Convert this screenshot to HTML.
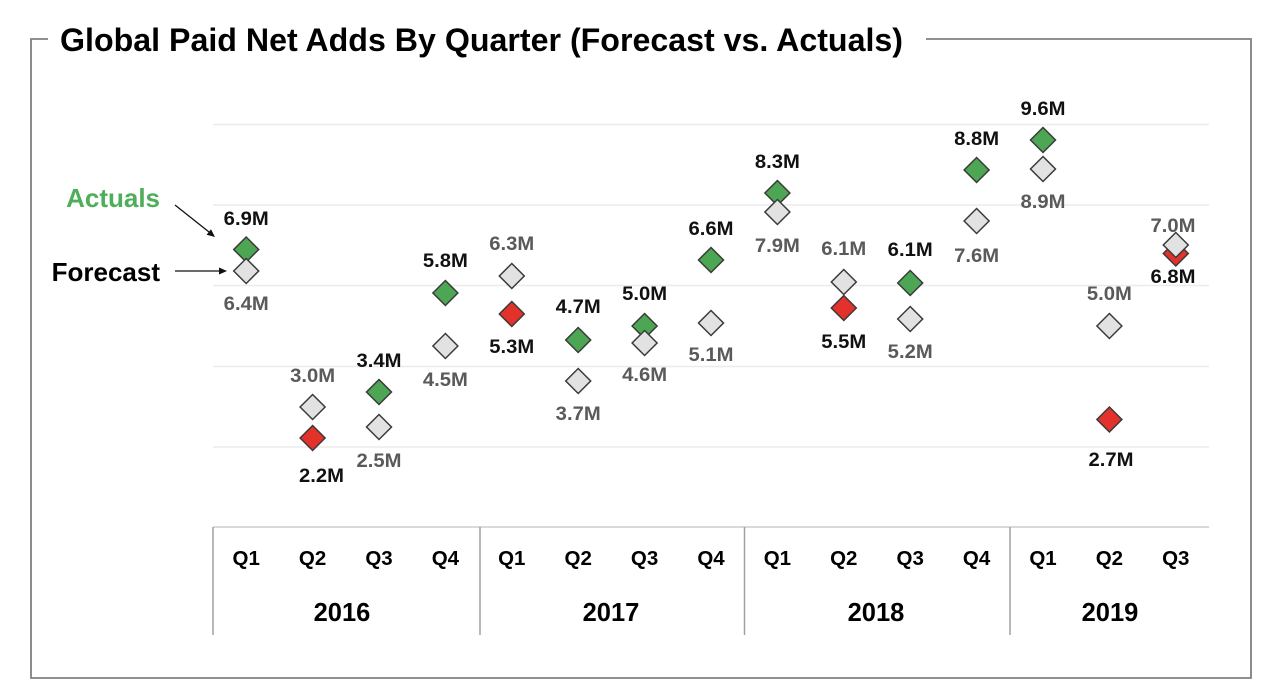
<!DOCTYPE html>
<html>
<head>
<meta charset="utf-8">
<style>
  html, body { margin: 0; padding: 0; background: #ffffff; }
  svg { display: block; }
  text { font-family: "Liberation Sans", Arial, sans-serif; font-weight: bold; }
</style>
</head>
<body>
<svg width="1280" height="699" viewBox="0 0 1280 699" xmlns="http://www.w3.org/2000/svg">
  <rect x="0" y="0" width="1280" height="699" fill="#ffffff"/>

  <!-- outer frame -->
  <path d="M48,39 H31 V678 H1251 V39 H926" fill="none" stroke="#808080" stroke-width="1.8"/>

  <!-- title -->
  <text x="60" y="51" font-size="32" fill="#000" textLength="843" lengthAdjust="spacingAndGlyphs">Global Paid Net Adds By Quarter (Forecast vs. Actuals)</text>

  <!-- gridlines -->
  <g stroke="#ebebeb" stroke-width="1.5">
    <line x1="213" y1="124.5" x2="1209" y2="124.5"/>
    <line x1="213" y1="205" x2="1209" y2="205"/>
    <line x1="213" y1="285.5" x2="1209" y2="285.5"/>
    <line x1="213" y1="366.5" x2="1209" y2="366.5"/>
    <line x1="213" y1="447" x2="1209" y2="447"/>
  </g>
  <line x1="213" y1="527" x2="1209" y2="527" stroke="#d9d9d9" stroke-width="2"/>

  <!-- year separators -->
  <g stroke="#a0a0a0" stroke-width="1.5">
    <line x1="213" y1="527" x2="213" y2="635"/>
    <line x1="480" y1="527" x2="480" y2="635"/>
    <line x1="744.5" y1="527" x2="744.5" y2="635"/>
    <line x1="1010" y1="527" x2="1010" y2="635"/>
  </g>

  <!-- quarter labels -->
  <g font-size="20.5" fill="#000" text-anchor="middle">
    <text x="246.2" y="565">Q1</text>
    <text x="312.6" y="565">Q2</text>
    <text x="379.0" y="565">Q3</text>
    <text x="445.4" y="565">Q4</text>
    <text x="511.8" y="565">Q1</text>
    <text x="578.2" y="565">Q2</text>
    <text x="644.6" y="565">Q3</text>
    <text x="711.0" y="565">Q4</text>
    <text x="777.4" y="565">Q1</text>
    <text x="843.8" y="565">Q2</text>
    <text x="910.2" y="565">Q3</text>
    <text x="976.6" y="565">Q4</text>
    <text x="1043.0" y="565">Q1</text>
    <text x="1109.4" y="565">Q2</text>
    <text x="1175.8" y="565">Q3</text>
  </g>
  <!-- year labels -->
  <g font-size="25.5" fill="#000" text-anchor="middle">
    <text x="342" y="621">2016</text>
    <text x="611" y="621">2017</text>
    <text x="876" y="621">2018</text>
    <text x="1110" y="621">2019</text>
  </g>

  <!-- legend callouts -->
  <text x="160" y="207" font-size="26" fill="#4fae5a" text-anchor="end">Actuals</text>
  <text x="160" y="281" font-size="26" fill="#000" text-anchor="end">Forecast</text>
  <g stroke="#111" stroke-width="1.3" fill="#111">
    <line x1="175" y1="205" x2="209" y2="232"/>
    <polygon points="215,237 206.6,234.7 211,229.3" stroke="none"/>
    <line x1="175" y1="271" x2="220" y2="271"/>
    <polygon points="227,271 219,267.5 219,274.5" stroke="none"/>
  </g>

  <!-- actual markers -->
  <g stroke="#3a3a3a" stroke-width="1.5" stroke-linejoin="miter">
    <polygon fill="#4da653" points="246.2,237 258.7,249.5 246.2,262 233.7,249.5"/>
    <polygon fill="#e3322b" points="312.6,425.5 325.1,438 312.6,450.5 300.1,438"/>
    <polygon fill="#4da653" points="379.0,379.5 391.5,392 379.0,404.5 366.5,392"/>
    <polygon fill="#4da653" points="445.4,280.5 457.9,293 445.4,305.5 432.9,293"/>
    <polygon fill="#e3322b" points="511.8,301.5 524.3,314 511.8,326.5 499.3,314"/>
    <polygon fill="#4da653" points="578.2,327.5 590.7,340 578.2,352.5 565.7,340"/>
    <polygon fill="#4da653" points="644.6,313.5 657.1,326 644.6,338.5 632.1,326"/>
    <polygon fill="#4da653" points="711.0,247.5 723.5,260 711.0,272.5 698.5,260"/>
    <polygon fill="#4da653" points="777.4,180.5 789.9,193 777.4,205.5 764.9,193"/>
    <polygon fill="#e3322b" points="843.8,295.5 856.3,308 843.8,320.5 831.3,308"/>
    <polygon fill="#4da653" points="910.2,270.5 922.7,283 910.2,295.5 897.7,283"/>
    <polygon fill="#4da653" points="976.6,157.5 989.1,170 976.6,182.5 964.1,170"/>
    <polygon fill="#4da653" points="1043.0,127.5 1055.5,140 1043.0,152.5 1030.5,140"/>
    <polygon fill="#e3322b" points="1109.4,407 1121.9,419.5 1109.4,432 1096.9,419.5"/>
    <polygon fill="#e3322b" points="1175.8,241 1188.3,253.5 1175.8,266 1163.3,253.5"/>
  </g>

  <!-- forecast markers -->
  <g stroke="#3a3a3a" stroke-width="1.5" fill="#e2e2e2">
    <polygon points="246.2,258.5 258.7,271 246.2,283.5 233.7,271"/>
    <polygon points="312.6,394.5 325.1,407 312.6,419.5 300.1,407"/>
    <polygon points="379.0,414.5 391.5,427 379.0,439.5 366.5,427"/>
    <polygon points="445.4,333.5 457.9,346 445.4,358.5 432.9,346"/>
    <polygon points="511.8,263.5 524.3,276 511.8,288.5 499.3,276"/>
    <polygon points="578.2,368.5 590.7,381 578.2,393.5 565.7,381"/>
    <polygon points="644.6,330.5 657.1,343 644.6,355.5 632.1,343"/>
    <polygon points="711.0,310.5 723.5,323 711.0,335.5 698.5,323"/>
    <polygon points="777.4,199.5 789.9,212 777.4,224.5 764.9,212"/>
    <polygon points="843.8,269.5 856.3,282 843.8,294.5 831.3,282"/>
    <polygon points="910.2,306.5 922.7,319 910.2,331.5 897.7,319"/>
    <polygon points="976.6,208.5 989.1,221 976.6,233.5 964.1,221"/>
    <polygon points="1043.0,156.5 1055.5,169 1043.0,181.5 1030.5,169"/>
    <polygon points="1109.4,313.5 1121.9,326 1109.4,338.5 1096.9,326"/>
    <polygon points="1175.8,232.5 1188.3,245 1175.8,257.5 1163.3,245"/>
  </g>

  <!-- actual labels -->
  <g font-size="19" fill="#111" text-anchor="middle">
    <text x="246.2" y="225" textLength="45" lengthAdjust="spacingAndGlyphs">6.9M</text>
    <text x="321.5" y="482" textLength="45" lengthAdjust="spacingAndGlyphs">2.2M</text>
    <text x="379.0" y="367" textLength="45" lengthAdjust="spacingAndGlyphs">3.4M</text>
    <text x="445.4" y="267" textLength="45" lengthAdjust="spacingAndGlyphs">5.8M</text>
    <text x="511.8" y="353" textLength="45" lengthAdjust="spacingAndGlyphs">5.3M</text>
    <text x="578.2" y="313" textLength="45" lengthAdjust="spacingAndGlyphs">4.7M</text>
    <text x="644.6" y="300" textLength="45" lengthAdjust="spacingAndGlyphs">5.0M</text>
    <text x="711.0" y="235" textLength="45" lengthAdjust="spacingAndGlyphs">6.6M</text>
    <text x="777.4" y="168" textLength="45" lengthAdjust="spacingAndGlyphs">8.3M</text>
    <text x="843.8" y="348" textLength="45" lengthAdjust="spacingAndGlyphs">5.5M</text>
    <text x="910.2" y="256" textLength="45" lengthAdjust="spacingAndGlyphs">6.1M</text>
    <text x="976.6" y="145" textLength="45" lengthAdjust="spacingAndGlyphs">8.8M</text>
    <text x="1043.0" y="115" textLength="45" lengthAdjust="spacingAndGlyphs">9.6M</text>
    <text x="1111" y="466" textLength="45" lengthAdjust="spacingAndGlyphs">2.7M</text>
    <text x="1173" y="283" textLength="45" lengthAdjust="spacingAndGlyphs">6.8M</text>
  </g>

  <!-- forecast labels -->
  <g font-size="19" fill="#5a5a5a" text-anchor="middle">
    <text x="246.2" y="310" textLength="45" lengthAdjust="spacingAndGlyphs">6.4M</text>
    <text x="312.6" y="382" textLength="45" lengthAdjust="spacingAndGlyphs">3.0M</text>
    <text x="379.0" y="467" textLength="45" lengthAdjust="spacingAndGlyphs">2.5M</text>
    <text x="445.4" y="386" textLength="45" lengthAdjust="spacingAndGlyphs">4.5M</text>
    <text x="511.8" y="250" textLength="45" lengthAdjust="spacingAndGlyphs">6.3M</text>
    <text x="578.2" y="420" textLength="45" lengthAdjust="spacingAndGlyphs">3.7M</text>
    <text x="644.6" y="381" textLength="45" lengthAdjust="spacingAndGlyphs">4.6M</text>
    <text x="711.0" y="361" textLength="45" lengthAdjust="spacingAndGlyphs">5.1M</text>
    <text x="777.4" y="252" textLength="45" lengthAdjust="spacingAndGlyphs">7.9M</text>
    <text x="843.8" y="255" textLength="45" lengthAdjust="spacingAndGlyphs">6.1M</text>
    <text x="910.2" y="358" textLength="45" lengthAdjust="spacingAndGlyphs">5.2M</text>
    <text x="976.6" y="262" textLength="45" lengthAdjust="spacingAndGlyphs">7.6M</text>
    <text x="1043.0" y="208" textLength="45" lengthAdjust="spacingAndGlyphs">8.9M</text>
    <text x="1109.4" y="300" textLength="45" lengthAdjust="spacingAndGlyphs">5.0M</text>
    <text x="1173" y="232" textLength="45" lengthAdjust="spacingAndGlyphs">7.0M</text>
  </g>
</svg>
</body>
</html>
